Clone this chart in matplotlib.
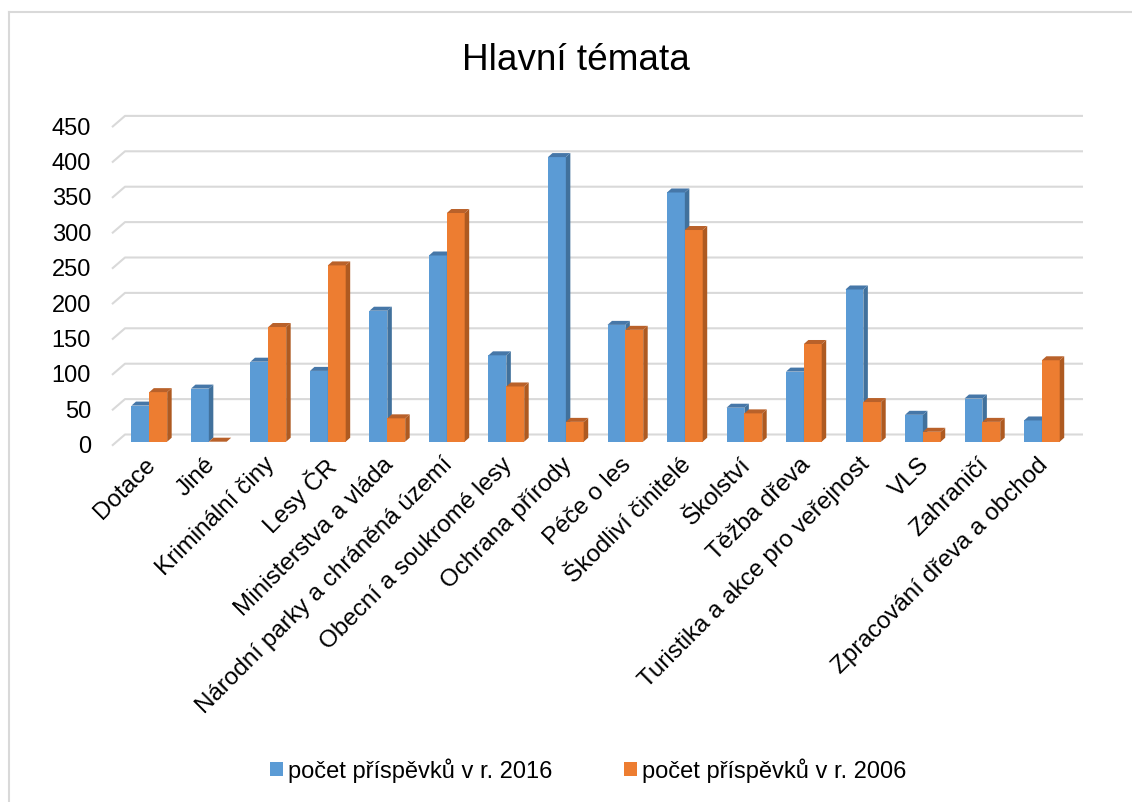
import matplotlib
matplotlib.use("Agg")
import matplotlib.pyplot as plt
import matplotlib.transforms as mtransforms
from matplotlib.patches import Polygon, Patch
from matplotlib.lines import Line2D

plt.rcParams['font.family'] = ['Liberation Sans', 'DejaVu Sans']

categories = ["Dotace", "Jiné", "Kriminální činy", "Lesy ČR", "Ministerstva a vláda",
              "Národní parky a chráněná území", "Obecní a soukromé lesy", "Ochrana přírody",
              "Péče o les", "Škodliví činitelé", "Školství", "Těžba dřeva",
              "Turistika a akce pro veřejnost", "VLS", "Zahraničí", "Zpracování dřeva a obchod"]
values_2016 = [51, 75, 113, 100, 185, 263, 122, 402, 165, 352, 48, 99, 215, 38, 61, 30]
values_2006 = [70, 0, 162, 249, 33, 323, 78, 28, 158, 299, 40, 138, 56, 14, 28, 115]
series_labels = ["počet příspěvků v r. 2016", "počet příspěvků v r. 2006"]
yticks = [0, 50, 100, 150, 200, 250, 300, 350, 400, 450]

W, H, DPI = 1132, 803, 100
fig = plt.figure(figsize=(W / DPI, H / DPI), dpi=DPI)

# axes = front plane of the bars (pixel geometry)
ax_l, ax_r, ax_b, ax_t = 116.6, 1074.6, 442.7, 124.1
ax = fig.add_axes([ax_l / W, 1 - ax_b / H, (ax_r - ax_l) / W, (ax_b - ax_t) / H])
n = len(categories)
ax.set_xlim(-0.55, n - 0.45)
ax.set_ylim(0, 450)
ax.set_axis_off()

px_x = (ax_r - ax_l) / (n - 0.45 + 0.55)   # pixels per category unit
px_y = (ax_b - ax_t) / 450.0               # pixels per value unit

def dx(p):
    return p / px_x

def dy(p):
    return p / px_y

grid_c = "#d9d9d9"
# gridlines: back wall + slanted floor/left-wall segment
bx, by = dx(8.4), dy(7.2)
fx, fy = dx(-4.6), dy(-4.0)
x0, x1 = ax.get_xlim()
for v in yticks:
    ax.plot([x0 + fx, x0 + bx, x1 + bx], [v + fy, v + by, v + by], color=grid_c,
            lw=1.5, clip_on=False, zorder=1, solid_capstyle='butt')

bw = 0.30
sdx, sdy = dx(4.5), dy(4.0)
colors = [("#5b9bd5", "#41719c", "#4677a8"), ("#ed7d31", "#ae5a21", "#b9612a")]

for s, vals in enumerate([values_2016, values_2006]):
    front, side, top = colors[s]
    xs = [i - bw + s * bw for i in range(n)]
    ax.bar(xs, vals, width=bw, align='edge', color=front, zorder=3 + s, clip_on=False)
    for x, v in zip(xs, vals):
        ax.add_patch(Polygon([(x + bw, 0), (x + bw + sdx, sdy), (x + bw + sdx, v + sdy), (x + bw, v)],
                             closed=True, facecolor=side, edgecolor='none', zorder=3 + s, clip_on=False))
        ax.add_patch(Polygon([(x, v), (x + sdx, v + sdy), (x + bw + sdx, v + sdy), (x + bw, v)],
                             closed=True, facecolor=top, edgecolor='none', zorder=3 + s, clip_on=False))

fs = 17
# y tick labels
ytr = mtransforms.blended_transform_factory(ax.transAxes, ax.transData) + \
    mtransforms.ScaledTranslation(-25.6 / DPI, -4.5 / DPI, fig.dpi_scale_trans)
for v in yticks:
    ax.text(0, v, str(v), transform=ytr, ha='right', va='center', fontsize=fs, color='black')

# x tick labels
xtr = mtransforms.blended_transform_factory(ax.transData, ax.transAxes) + \
    mtransforms.ScaledTranslation(-5 / DPI, -11 / DPI, fig.dpi_scale_trans)
for i, c in enumerate(categories):
    ax.text(i, 0, c, transform=xtr, rotation=45, rotation_mode='anchor',
            ha='right', va='top', fontsize=17.5, color='black')

# title
fig.text(576 / W, 1 - 70 / H, "Hlavní témata", ha='center', va='baseline', fontsize=26.6, color='black')

# legend
handles = [Patch(facecolor=colors[0][0]), Patch(facecolor=colors[1][0])]
fig.legend(handles, series_labels, loc='center', bbox_to_anchor=(588 / W, 1 - 771 / H),
           ncol=2, frameon=False, fontsize=fs, handlelength=0.55, handleheight=0.55,
           handletextpad=0.2, columnspacing=3.05, borderpad=0)

# chart border (partially cropped)
fig.add_artist(Line2D([8.5 / W, 8.5 / W], [0, 1 - 13 / H], color=grid_c, lw=1.5))
fig.add_artist(Line2D([8.5 / W, 1], [1 - 13 / H, 1 - 13 / H], color=grid_c, lw=1.5))

fig.savefig("out.png", dpi=DPI)
